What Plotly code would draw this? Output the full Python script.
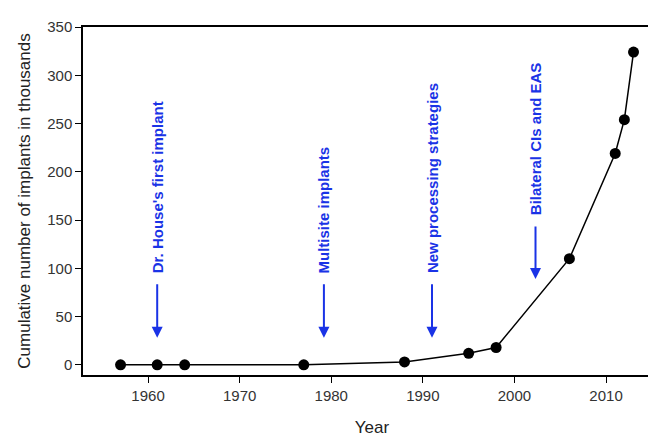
import plotly.graph_objects as go

years = [1957, 1961, 1964, 1977, 1988, 1995, 1998, 2006, 2011, 2012, 2013]
implants = [0, 0, 0, 0, 3, 12, 18, 110, 219, 254, 324]

event_labels = ["Dr. House's first implant", "Multisite implants", "New processing strategies", "Bilateral CIs and EAS"]
event_years = [1961, 1979.2, 1991, 2002.3]
arrow_tops = [85, 85, 85, 145]
arrow_tips = [28, 28, 28, 89]

fig = go.Figure()
fig.add_trace(go.Scatter(x=years, y=implants, mode="lines+markers",
                         line=dict(color="black", width=1.5),
                         marker=dict(color="black", size=11)))

for lab, xv, top, tip in zip(event_labels, event_years, arrow_tops, arrow_tips):
    fig.add_annotation(x=xv, y=tip, ax=xv, ay=top, axref="x", ayref="y",
                       showarrow=True, arrowhead=2, arrowsize=1.1, arrowwidth=2,
                       arrowcolor="#1a33e6", text="")
    fig.add_annotation(x=xv, y=top + 8, text=lab, textangle=-90, showarrow=False,
                       yanchor="bottom", xanchor="center",
                       font=dict(family="Liberation Sans, Arial", size=15, color="#1a33e6", weight="bold"))

ax_common = dict(showline=True, linecolor="black", linewidth=1.5, mirror=True, automargin=False,
                 ticks="outside", ticklen=6, tickcolor="black", showgrid=False, zeroline=False,
                 tickfont=dict(family="Liberation Sans, Arial", size=15, color="#333"))
fig.update_xaxes(range=[1952.9, 2016], tickvals=[1960, 1970, 1980, 1990, 2000, 2010],
                 title=dict(text="Year", standoff=18, font=dict(family="Liberation Sans, Arial", size=17, color="#222")),
                 **ax_common)
fig.update_yaxes(range=[-10.5, 350], tickvals=[0, 50, 100, 150, 200, 250, 300, 350],
                 title=dict(text="Cumulative number of implants in thousands", standoff=12,
                            font=dict(family="Liberation Sans, Arial", size=17, color="#222")),
                 **ax_common)
fig.update_layout(width=656, height=433, showlegend=False, plot_bgcolor="white", paper_bgcolor="white",
                  margin=dict(l=75, r=3, t=19, b=66))
fig.write_html("out.html")
